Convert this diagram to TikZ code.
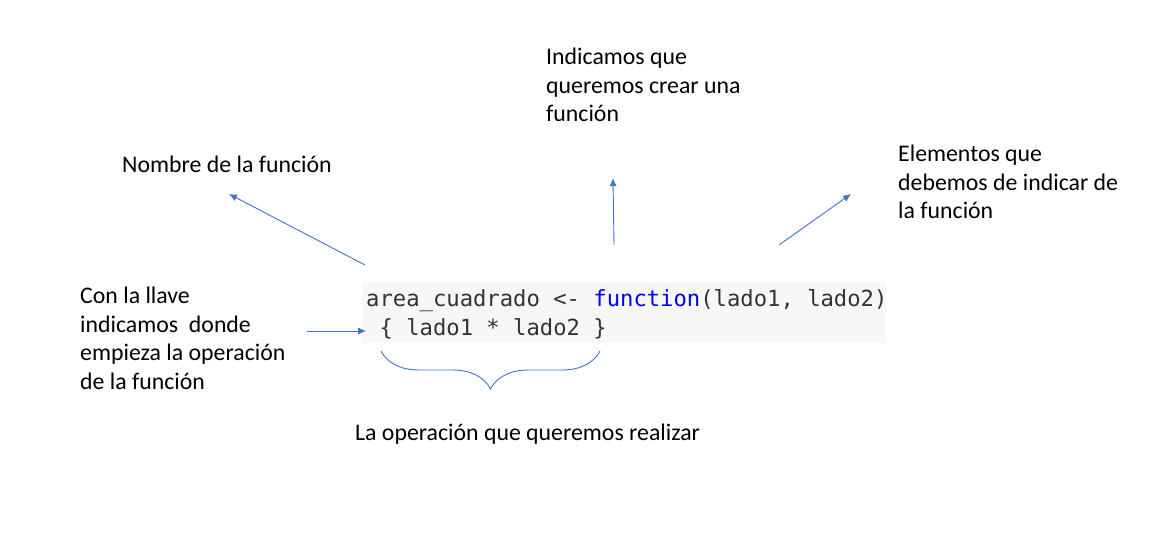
\documentclass[tikz,border=0pt]{standalone}
\usepackage{fontspec}
\setmainfont{Carlito}
\newfontfamily\codefont{DejaVu Sans Mono}
\usetikzlibrary{arrows.meta,decorations.pathreplacing}
\definecolor{arrowblue}{HTML}{4472C4}
\definecolor{kwblue}{HTML}{0000FF}
\definecolor{codegray}{HTML}{333333}
\definecolor{codebg}{HTML}{F7F7F7}
\tikzset{
  lbl/.style={font=\fontsize{23.8}{28.6}\selectfont, align=left, inner sep=0pt, text=black},
  codetxt/.style={font=\fontsize{22.2}{29}\selectfont\codefont, inner sep=0pt, text=codegray},
  arr/.style={-{Latex[length=8pt,width=7pt]}, draw=arrowblue, line width=0.9pt},
  bracestyle/.style={draw=arrowblue, line width=0.9pt, decorate, decoration={brace, amplitude=38pt, mirror}}
}
\begin{document}
\begin{tikzpicture}[x=1pt,y=-1pt]
\useasboundingbox (0,0) rectangle (1170,553);
% code block
\node[fill=codebg, inner sep=0pt, minimum width=524pt, minimum height=60pt, anchor=north west] (codebox) at (362,283) {};
\node[codetxt, anchor=base west] (line1) at (366,307) {area\_cuadrado <- \textcolor{kwblue}{function}(lado1, lado2)};
\node[codetxt, anchor=base west] (line2) at (366,336) {\ \{ lado1 * lado2 \}};
% labels
\node[lbl, anchor=base west] (nombre) at (122,173) {Nombre de la función};
\node[lbl, anchor=north west] (indicamos) at (546,48) {Indicamos que\\queremos crear una\\función};
\node[lbl, anchor=north west] (elementos) at (898,145) {Elementos que\\debemos de indicar de\\la función};
\node[lbl, anchor=north west] (llave) at (80,287) {Con la llave\\indicamos\ \ donde\\empieza la operación\\de la función};
\node[lbl, anchor=base west] (operacion) at (355,440) {La operación que queremos realizar};
% connectors
\coordinate (n0) at (365,265);
\coordinate (n1) at (229,194);
\coordinate (i0) at (614,245);
\coordinate (i1) at (613,178);
\coordinate (e0) at (779,245);
\coordinate (e1) at (851,194);
\coordinate (l0) at (307,331);
\coordinate (l1) at (366,331);
\draw[arr] (n0) -- (n1);
\draw[arr] (i0) -- (i1);
\draw[arr] (e0) -- (e1);
\draw[arr] (l0) -- (l1);
% brace
\coordinate (b0) at (381,351);
\coordinate (b1) at (600,351);
\draw[bracestyle] (b0) -- (b1);
\end{tikzpicture}
\end{document}
